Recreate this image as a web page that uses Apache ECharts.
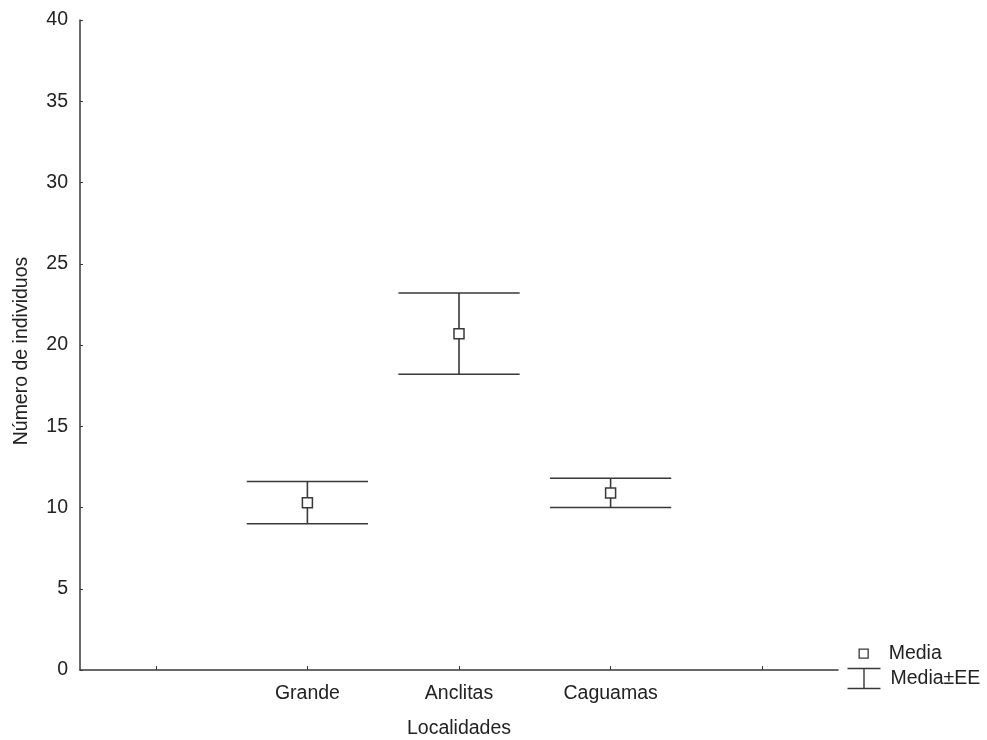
<!DOCTYPE html>
<html>
<head>
<meta charset="utf-8">
<script src="https://cdn.jsdelivr.net/npm/echarts@6/dist/echarts.min.js"></script>
<style>html,body{margin:0;padding:0;background:#fff}#c{width:987px;height:740px}</style>
</head>
<body>
<div id="c"></div>
<script>
const categories = ['', 'Grande', 'Anclitas', 'Caguamas', ''];
const means = [null, 10.3, 20.7, 10.9, null];
const upper = [null, 11.6, 23.2, 11.8, null];
const lower = [null, 9.0, 18.2, 10.0, null];
const yTicks = [0, 5, 10, 15, 20, 25, 30, 35, 40];

const INK = '#383838';
const TXT = '#222';
const FONT = 'Liberation Sans, Arial, sans-serif';
const FS = 19.5;

const errData = [];
const meanData = [];
categories.forEach(function (c, i) {
  if (means[i] != null) {
    errData.push([i, lower[i], upper[i]]);
    meanData.push([i, means[i]]);
  }
});

const legendText = {fontFamily: FONT, fontSize: FS, color: TXT, lineHeight: 20, padding: [0, 0, 0, 0]};

const chart = echarts.init(document.getElementById('c'), null, {renderer: 'canvas'});
chart.setOption({
  backgroundColor: '#fff',
  animation: false,
  grid: {left: 80, right: 149, top: 20, bottom: 70, containLabel: false, outerBoundsMode: 'none'},
  legend: [
    {
      orient: 'vertical', left: 846, top: 643, padding: 0, itemGap: 0,
      itemWidth: 37, itemHeight: 20, textStyle: legendText,
      data: [{name: 'Media', icon: 'path://M0,0 M37,20 M12.5,5.5 L21.5,5.5 L21.5,14.5 L12.5,14.5 Z',
        itemStyle: {color: '#fff', borderColor: INK, borderWidth: 1.3}}]
    },
    {
      orient: 'vertical', left: 845, top: 666, padding: 0, itemGap: 0,
      itemWidth: 38, itemHeight: 20, textStyle: legendText,
      data: [{name: 'Media±EE', icon: 'path://M0,0 L33,0 M16.5,0 L16.5,20 M0,20 L33,20 M38,0',
        itemStyle: {color: 'none', borderColor: INK, borderWidth: 1.4}}]
    }
  ],
  xAxis: {
    type: 'category', data: categories, boundaryGap: true,
    name: 'Localidades', nameLocation: 'middle', nameGap: 49,
    nameTextStyle: {fontFamily: FONT, fontSize: FS, color: TXT},
    axisLine: {show: true, onZero: false, lineStyle: {color: INK, width: 1.5}},
    axisTick: {show: true, inside: true, length: 4, alignWithLabel: true, interval: 0, lineStyle: {color: INK, width: 1}},
    axisLabel: {interval: 0, margin: 14, fontFamily: FONT, fontSize: FS, color: TXT},
    splitLine: {show: false}
  },
  yAxis: {
    type: 'value', min: 0, max: 40, interval: 5,
    name: 'Número de individuos', nameLocation: 'middle', nameGap: 48,
    nameTextStyle: {fontFamily: FONT, fontSize: FS, color: TXT, padding: [0, 12, 0, 0]},
    axisLine: {show: true, lineStyle: {color: INK, width: 1.5}},
    axisTick: {show: true, inside: true, length: 3, lineStyle: {color: INK, width: 1}},
    axisLabel: {margin: 12, fontFamily: FONT, fontSize: FS, color: TXT,
      formatter: function (v) { return yTicks.indexOf(v) >= 0 ? String(v) : ''; }},
    splitLine: {show: false}
  },
  series: [
    {
      name: 'Media±EE', type: 'custom', z: 2,
      itemStyle: {color: 'none', borderColor: INK},
      encode: {x: 0, y: [1, 2]},
      data: errData,
      renderItem: function (params, api) {
        const x = api.value(0);
        const lo = api.coord([x, api.value(1)]);
        const hi = api.coord([x, api.value(2)]);
        const half = api.size([1, 0])[0] * 0.4;
        const st = {stroke: INK, lineWidth: 1.6, fill: null};
        return {
          type: 'group',
          children: [
            {type: 'line', shape: {x1: hi[0] - half, y1: hi[1], x2: hi[0] + half, y2: hi[1]}, style: st},
            {type: 'line', shape: {x1: lo[0] - half, y1: lo[1], x2: lo[0] + half, y2: lo[1]}, style: st},
            {type: 'line', shape: {x1: hi[0], y1: hi[1], x2: lo[0], y2: lo[1]}, style: st}
          ]
        };
      }
    },
    {
      name: 'Media', type: 'scatter', z: 5,
      symbol: 'rect', symbolSize: 10,
      itemStyle: {color: '#fff', borderColor: INK, borderWidth: 1.5, opacity: 1},
      data: meanData
    }
  ]
});
</script>
</body>
</html>
